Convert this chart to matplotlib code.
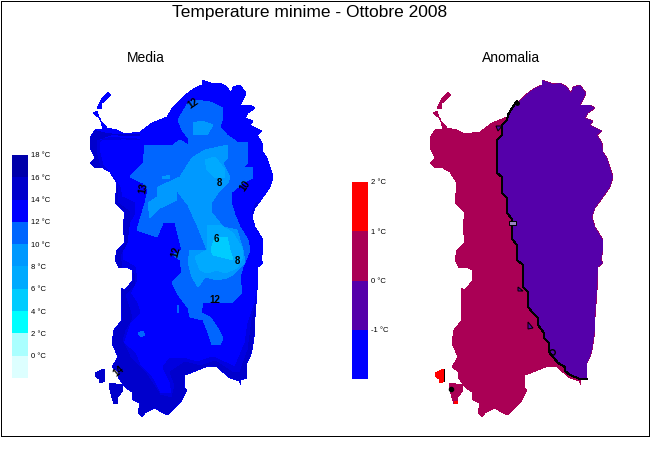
import matplotlib
matplotlib.use('Agg')
import matplotlib.pyplot as plt
from matplotlib.patches import Polygon

plt.rcParams['font.family'] = ['Liberation Sans', 'DejaVu Sans']

# colour bars
media_levels = [18, 16, 14, 12, 10, 8, 6, 4, 2, 0]
media_colors = ['#0000aa', '#0000cc', '#0000ff', '#0066ff', '#0099ff',
                '#00aaff', '#00ccff', '#00ffff', '#aaffff', '#ddffff']
anom_levels = [2, 1, 0, -1]
anom_colors = ['#ff0000', '#aa0055', '#5500aa', '#0000ff']

# outlines, in picture pixels
main_coast = [(202, 80), (208, 82), (213, 84), (220, 83), (227, 87), (231, 93), (233, 87), (240, 85),
              (246, 93), (243, 100), (240, 105), (250, 105), (255, 108), (248, 113), (245, 118),
              (253, 121), (250, 125), (262, 131), (257, 135), (262, 143), (263, 152), (267, 158),
              (273, 177), (270, 187), (263, 197), (255, 208), (252, 217), (255, 227), (263, 240),
              (263, 250), (261, 260), (263, 263), (258, 267), (257, 290), (255, 317), (255, 330),
              (252, 350), (250, 357), (247, 363), (247, 378), (240, 380), (241, 385), (239, 381),
              (230, 378), (217, 367), (208, 366), (198, 370), (185, 375), (184, 387), (187, 390),
              (182, 400), (168, 415), (163, 413), (155, 408), (145, 413), (142, 417), (138, 413),
              (140, 403), (133, 400), (132, 392), (125, 387), (118, 377), (119, 372), (112, 367),
              (118, 357), (112, 343), (114, 330), (122, 320), (121, 288), (125, 290), (133, 280),
              (132, 270), (127, 267), (119, 268), (115, 260), (117, 250), (125, 243), (123, 227),
              (125, 212), (115, 203), (117, 183), (110, 172), (103, 168), (95, 168), (90, 163),
              (95, 158), (90, 148), (90, 138), (95, 130), (103, 129), (100, 118), (95, 115), (93, 113),
              (97, 111), (100, 120), (107, 128), (117, 130), (125, 134), (140, 132), (152, 123),
              (167, 117), (173, 107), (188, 93), (195, 88), (202, 85)]
asinara = [(97, 108), (100, 102), (103, 97), (108, 92), (111, 95), (108, 98), (102, 103), (101, 109)]
san_pietro = [(95, 373), (99, 371), (104, 369), (105, 381), (100, 383), (99, 379), (96, 377)]
sant_antioco = [(109, 383), (122, 385), (123, 390), (118, 397), (118, 404), (114, 404), (112, 398), (110, 390)]

# contour bands of the Media map, painted from the coast inwards
rim_west = [(95, 140), (117, 140), (125, 138), (133, 138), (140, 140), (133, 140), (113, 137), (103, 139),
            (100, 142), (100, 153), (103, 165), (113, 177), (120, 187), (122, 197), (135, 203), (135, 213),
            (127, 227), (125, 243), (123, 250), (123, 260), (135, 267), (137, 280), (130, 293), (137, 303),
            (140, 313), (130, 323), (123, 343), (135, 353), (140, 365), (152, 378), (160, 393), (172, 393),
            (170, 382), (163, 367), (170, 358), (183, 358), (197, 362), (213, 357), (235, 367), (245, 343),
            (248, 323), (255, 303), (257, 290), (268, 290), (268, 440), (70, 440), (70, 110)]
rim_outer = [(85, 128), (105, 133), (125, 136), (140, 135), (113, 134), (97, 140), (97, 155), (100, 168),
             (113, 180), (118, 190), (118, 203), (130, 212), (129, 227), (127, 243), (120, 255), (122, 268),
             (135, 275), (135, 285), (125, 295), (130, 310), (132, 318), (125, 330), (122, 340), (130, 357),
             (145, 372), (160, 395), (172, 398), (175, 385), (170, 372), (185, 362), (200, 366), (215, 361),
             (232, 372), (240, 372), (248, 350), (252, 320), (258, 295), (268, 295), (268, 440), (70, 440), (70, 128)]
rim_east = [(252, 213), (256, 203), (270, 200), (270, 240), (263, 240), (255, 227)]
band_10_12 = [(188, 103), (195, 100), (210, 102), (223, 108), (223, 117), (220, 127), (227, 135), (237, 142),
              (248, 143), (248, 163), (243, 167), (252, 167), (253, 178), (243, 183), (232, 192), (232, 205),
              (235, 215), (240, 227), (248, 240), (250, 250), (243, 267), (240, 277), (242, 293), (233, 302),
              (223, 303), (203, 303), (201, 313), (210, 317), (217, 327), (223, 338), (220, 345), (212, 345),
              (207, 330), (203, 320), (190, 317), (188, 308), (177, 293), (172, 282), (182, 273), (180, 260),
              (173, 255), (182, 250), (175, 223), (163, 223), (157, 237), (137, 230), (142, 213), (145, 203),
              (148, 190), (143, 183), (130, 177), (143, 163), (145, 145), (173, 145), (180, 140), (188, 145),
              (188, 138), (182, 130), (178, 120)]
band_8_10_north = [(193, 123), (202, 121), (213, 125), (207, 135), (193, 135)]
band_8_10 = [(158, 187), (180, 177), (192, 158), (205, 150), (228, 145), (228, 157), (223, 163), (230, 177),
             (228, 183), (218, 193), (212, 202), (212, 213), (223, 227), (237, 230), (243, 250), (245, 263),
             (233, 275), (227, 278), (217, 280), (205, 277), (198, 287), (192, 277), (188, 262), (190, 250),
             (207, 250), (197, 225), (188, 205), (178, 192), (177, 192), (177, 200), (160, 208), (150, 218),
             (148, 203), (157, 197)]
band_8_10_a = [(162, 177), (170, 175), (170, 179), (162, 179)]
band_6_8_north = [(205, 160), (215, 157), (225, 170), (225, 177), (215, 178), (207, 170)]
band_6_8 = [(207, 250), (208, 225), (220, 225), (233, 233), (243, 250), (243, 257), (237, 268), (225, 273),
            (217, 270), (207, 273), (200, 270), (195, 257)]
band_4_6 = [(215, 237), (227, 237), (230, 250), (233, 260), (225, 258), (213, 255), (211, 250)]
spots_10_12 = [[(138, 333), (143, 331), (145, 335), (141, 337)], [(177, 305), (179, 305), (179, 313), (177, 313)]]

# labels of the contour lines
media_labels = ['12', '13', '8', '10', '6', '12', '8', '12', '14']
media_label_x = [193, 143, 219, 245, 216, 176, 237, 215, 119]
media_label_y = [103, 188, 183, 186, 239, 252, 261, 300, 371]
media_label_rot = [35, 80, 0, 55, 0, 75, 0, 0, 40]

# Anomalia map: the 0 degree contour from north to south
zero_line = [(517, 101), (512, 108), (508, 115), (507, 120), (502, 125), (502, 135), (497, 140), (497, 173),
             (502, 177), (502, 193), (507, 198), (507, 213), (512, 219), (512, 239), (517, 245), (517, 260),
             (523, 265), (523, 287), (528, 292), (528, 307), (533, 313), (538, 318), (538, 325), (544, 333),
             (544, 338), (549, 343), (549, 352), (558, 363), (565, 367), (565, 371), (570, 375), (580, 379), (587, 379)]
anom_tags = [[(496, 126), (502, 126), (498, 131)], [(518, 287), (523, 291), (518, 291)],
             [(528, 322), (533, 328), (528, 329)]]
anom_tag_box = [(509, 221), (516, 221), (516, 225), (509, 225)]
anom_tag_dot = [(552, 352)]
red_corner = [(454, 401), (459, 401), (459, 404), (454, 404)]
map_shift = 340

fig = plt.figure(figsize=(6.5, 4.5), dpi=100)
ax = fig.add_axes([0, 0, 1, 1])
ax.set_xlim(0, 650)
ax.set_ylim(450, 0)
ax.axis('off')


def island_patch(shift, color):
    patches = []
    for pts in [main_coast, asinara, san_pietro, sant_antioco]:
        p = Polygon([(x + shift, y) for x, y in pts], closed=True, facecolor=color,
                    edgecolor='none', linewidth=0, antialiased=False, zorder=2)
        ax.add_patch(p)
        patches.append(p)
    return patches


def band(pts, color, clip, z=3):
    p = Polygon(pts, closed=True, facecolor=color, edgecolor='none', antialiased=False, zorder=z)
    ax.add_patch(p)
    p.set_clip_path(clip)
    return p


# frame
ax.plot([0.5, 649, 649, 0.5, 0.5], [0.5, 0.5, 436, 436, 0.5], color='black', lw=0.72, antialiased=False)

ax.text(310, 13, 'Temperature minime - Ottobre 2008', ha='center', va='center', fontsize=12.5)
ax.text(146, 58, 'Media', ha='center', va='center', fontsize=10)
ax.text(511, 58, 'Anomalia', ha='center', va='center', fontsize=10)

# left map
left = island_patch(0, '#0000ff')
main_left = left[0]
band(rim_west, '#0000e0', main_left)
band(rim_east, '#0000e0', main_left)
band(rim_outer, '#0000cc', main_left, z=3.5)
for pts in [band_10_12] + spots_10_12:
    band(pts, '#0066ff', main_left, z=4)
for pts in [band_8_10_north, band_8_10, band_8_10_a]:
    band(pts, '#0099ff', main_left, z=5)
for pts in [band_6_8_north, band_6_8]:
    band(pts, '#00aaff', main_left, z=6)
band(band_4_6, '#00ccff', main_left, z=7)
for i in [2, 3]:
    left[i].set_facecolor('#0000cc')

for s, x, y, r in zip(media_labels, media_label_x, media_label_y, media_label_rot):
    ax.text(x, y, s, ha='center', va='center', fontsize=7, fontweight='bold', rotation=r, zorder=9)

# right map
right = island_patch(map_shift, '#aa0055')
main_right = right[0]
east_side = zero_line + [(700, 379), (700, 60), (517, 60)]
band(east_side, '#5500aa', main_right)
lx, ly = zip(*zero_line)
ax.plot(lx, ly, color='black', lw=0.72, zorder=8, antialiased=False)
right[2].set_facecolor('#ff0000')
ax.plot([444, 444], [369, 381], color='black', lw=0.72, zorder=8, antialiased=False)
for pts in anom_tags:
    ax.add_patch(Polygon(pts, closed=True, facecolor='#5500aa', edgecolor='black', lw=0.72, zorder=9))
ax.add_patch(Polygon(anom_tag_box, closed=True, facecolor='#9a80c0', edgecolor='black', lw=0.72, zorder=9))
for x, y in anom_tag_dot:
    ax.plot(x, y, 'o', ms=4, mfc='none', mec='black', mew=1, zorder=9)
ax.plot(517, 103, 'o', ms=2.5, color='black', zorder=9)
ax.plot(451, 389, 'o', ms=3, color='black', zorder=9)
band(red_corner, '#ff0000', right[3], z=4)


def colorbar(x0, y0, w, h, levels, colors, step, size):
    cax = fig.add_axes([x0 / 650, 1 - (y0 + h) / 450, w / 650, h / 450])
    bottoms = [v - step for v in levels]
    cax.bar([0] * len(levels), [step] * len(levels), bottom=bottoms, width=1, color=colors)
    cax.set_xlim(-0.5, 0.5)
    cax.set_ylim(levels[-1] - step, levels[0])
    cax.set_xticks([])
    cax.yaxis.tick_right()
    cax.set_yticks(levels)
    cax.set_yticklabels(['%d °C' % v for v in levels], fontsize=size)
    cax.tick_params(axis='y', length=0, pad=2)
    for s in cax.spines.values():
        s.set_visible(False)


colorbar(12, 155, 16, 223, media_levels, media_colors, 2, 5.5)
colorbar(352, 182, 16, 197, anom_levels, anom_colors, 1, 5.5)

fig.savefig('out.png', dpi=100)
